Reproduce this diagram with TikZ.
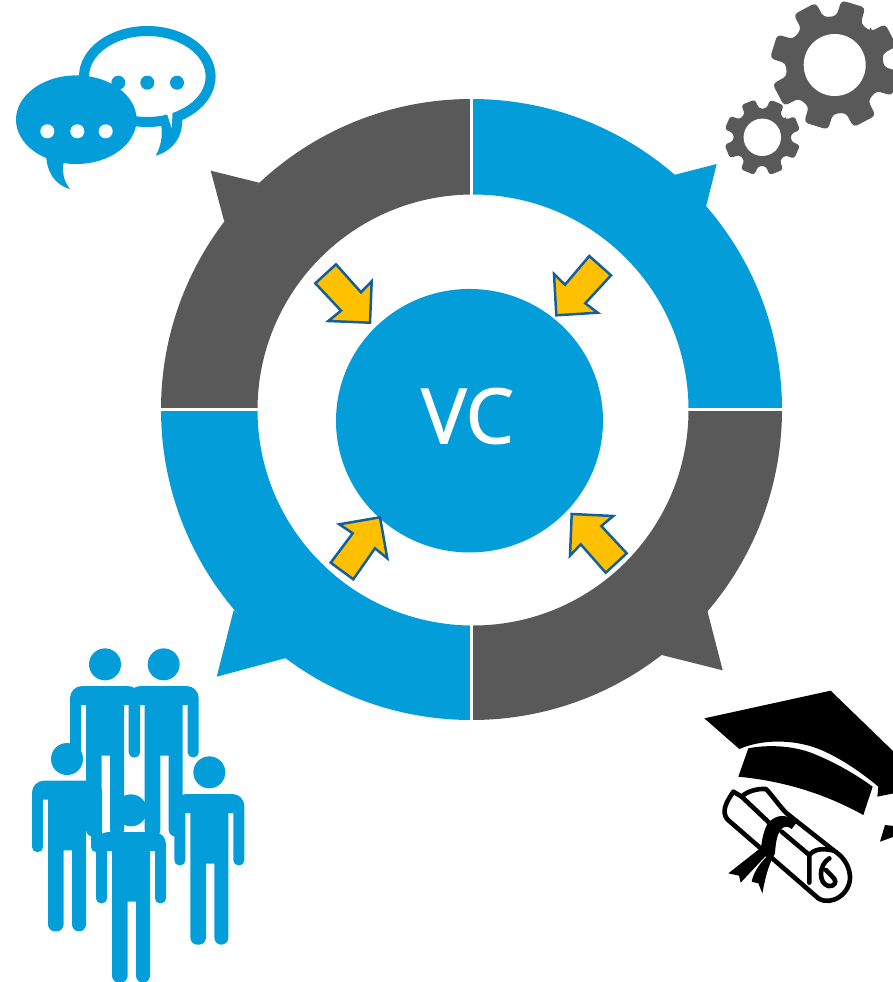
\documentclass[tikz,border=0pt]{standalone}
\usepackage{fontspec}
\setmainfont{Open Sans}
\usetikzlibrary{shapes.geometric}
\definecolor{vcblue}{HTML}{039DD9}
\definecolor{vcdark}{HTML}{595959}
\definecolor{vcyellow}{HTML}{FFC000}
\definecolor{vcedge}{HTML}{155E9C}
\tikzset{
  inarrow/.style={fill=vcyellow,draw=vcedge,line width=2.5pt,line join=miter},
  ringgap/.style={draw=white,line width=3pt},
  scrollline/.style={draw=black,line width=4.6pt,line join=round,line cap=round},
}
\newcommand{\ringseg}[2]{%
  \fill[#2] ([shift={(#1:310.5)}]c) arc[start angle=#1,delta angle=90,radius=310.5]
    -- ([shift={(#1+90:215.5)}]ci) arc[start angle=#1+90,delta angle=-90,radius=215.5] -- cycle;}
\newcommand{\gearicon}[8]{% cx cy rbody rtip half-base half-tip phase corner
  \fill[vcdark,rounded corners=#8pt]
    ([shift={(#7-#5:#3)}]#1,#2)
    \foreach \k in {0,...,7}{
      -- ([shift={(#7+45*\k-#5:#3)}]#1,#2)
      -- ([shift={(#7+45*\k-#6:#4)}]#1,#2)
      -- ([shift={(#7+45*\k+#6:#4)}]#1,#2)
      -- ([shift={(#7+45*\k+#5:#3)}]#1,#2)
    } -- cycle;}
\newcommand{\personicon}[2]{%
  \begin{scope}[shift={(#1,#2)}]
    \fill[vcblue] (0,0) circle[radius=48];
    \fill[vcblue] (-72,122) [rounded corners=5pt] -- (-72,279) -- (-105,279)
      [rounded corners=12pt] -- (-105,65) -- (105,65)
      [rounded corners=5pt] -- (105,279) -- (72,279) [sharp corners] -- (72,122) -- (57,122)
      [rounded corners=7pt] -- (57,517) -- (15,517) [sharp corners] -- (15,274) -- (-10,274)
      [rounded corners=7pt] -- (-10,517) -- (-57,517) [sharp corners] -- (-57,122) -- cycle;
  \end{scope}}
\begin{document}
\begin{tikzpicture}[x=1pt,y=-1pt]
\useasboundingbox (0,0) rectangle (893,982);
\clip (0,0) rectangle (893,982);
\coordinate (c) at (471.5,409.5);
\coordinate (ci) at (473,410);
% ring
\ringseg{-90}{vcblue}
\ringseg{0}{vcdark}
\ringseg{90}{vcblue}
\ringseg{180}{vcdark}
\fill[vcblue] (674,175) -- (716.7,164) -- (706,206.7) -- cycle;
\fill[vcdark] (259.3,182.7) -- (210.7,170.7) -- (224.3,221.7) -- cycle;
\fill[vcblue] (233.7,610) -- (216.7,676.7) -- (286,658) -- cycle;
\fill[vcdark] (707.3,610.7) -- (722.7,670.3) -- (661.7,655) -- cycle;
\draw[ringgap] (471.5,90) -- (471.5,198);
\draw[ringgap] (471.5,622) -- (471.5,730);
\draw[ringgap] (150,409.3) -- (262,409.3);
\draw[ringgap] (684,409.3) -- (790,409.3);
% centre
\node[ellipse,fill=vcblue,inner sep=0pt,minimum width=267pt,minimum height=263.5pt] (vc) at (469.5,420.7) {};
\node[text=white,font=\fontsize{76}{76}\selectfont\addfontfeature{FakeBold=1.6},inner sep=0pt] (vclabel) at (467.5,416) {VC};
% arrows
\draw[inarrow] (336,264.3) -- (361,292.3) -- (371.7,281.3) -- (370,322.7) -- (328.3,321) -- (341,310.7) -- (315.3,283.3) -- cycle;
\draw[inarrow] (589.3,256) -- (611,275.3) -- (585.3,303.3) -- (597.7,312.7) -- (556.3,315.3) -- (554,274) -- (565,284.7) -- cycle;
\draw[inarrow] (330.7,562.7) -- (353.3,579.3) -- (375,548.3) -- (387.3,558.3) -- (380,517.3) -- (339.3,524.3) -- (352.7,533.3) -- cycle;
\draw[inarrow] (626.7,553.3) -- (605.7,572.7) -- (580.7,544.3) -- (570,555.7) -- (571.7,514) -- (613.3,516) -- (601.3,526) -- cycle;
% gears
\gearicon{834.7}{65}{49}{65}{15}{11}{-28}{4}
\fill[white] (834.7,65) circle[radius=31];
\gearicon{762.3}{137.3}{29}{38.5}{15}{11}{-22}{3}
\fill[white] (762.3,137.3) circle[radius=18.7];
% chat bubbles
\draw[vcblue,line width=10pt] (147.3,76.5) ellipse[x radius=63.3,y radius=45.5];
\fill[vcblue] (182.3,118) .. controls (183,138) and (172,151) .. (155.7,155.7)
  .. controls (161,146) and (163,136) .. (161,124) -- cycle;
\fill[white] (166.7,113) -- (171.7,128) -- (172.7,110) -- cycle;
\foreach \px in {118.3,147.3,177} \fill[vcblue] (\px,82.7) circle[radius=7];
\fill[vcblue] (76.3,119.7) ellipse[x radius=60.3,y radius=44.3];
\fill[vcblue] (46,152) .. controls (46,172) and (55,185) .. (70,189)
  .. controls (63,180) and (62,172) .. (64,160) -- cycle;
\foreach \px in {47.3,77.3,105.7} \fill[white] (\px,131.3) circle[radius=7];
% people
\begin{scope}[shift={(20,640)},x=0.33333pt,y=-0.33333pt]
  \personicon{255}{73}
  \personicon{431}{73}
  \personicon{141}{357}
  \personicon{568}{397}
  \personicon{333}{511}
\end{scope}
% graduation cap and diploma
\begin{scope}[shift={(690,680)},x=0.33333pt,y=-0.33333pt]
  \fill[black] (43,115) -- (422,32) -- (612,216) -- (612,340) -- (562,350) -- (565,320)
    .. controls (500,265) and (420,215) .. (360,198)
    .. controls (290,178) and (210,180) .. (148,207) -- cycle;
  \fill[black] (175,205) .. controls (240,192) and (320,198) .. (380,225)
    .. controls (440,250) and (500,285) .. (548,320) -- (520,405)
    .. controls (420,350) and (300,305) .. (145,290) -- cycle;
  \fill[black] (585,435) -- (612,438) -- (612,470) -- (570,485) -- cycle;
  \draw[scrollline] (130,335) .. controls (105,372) and (95,395) .. (112,418) -- (385,655)
    .. controls (425,680) and (482,640) .. (480,590)
    .. controls (478,550) and (452,525) .. (432,512) -- (290,400)
    .. controls (265,375) and (250,350) .. (228,327)
    .. controls (200,325) and (170,335) .. (155,350) -- cycle;
  \draw[scrollline] (155,350) -- (250,440);
  \draw[scrollline] (275,455) -- (358,525) -- (358,608);
  \draw[scrollline] (358,525) .. controls (375,505) and (400,505) .. (432,512);
  \draw[scrollline] (418,535) .. controls (385,555) and (385,610) .. (415,618)
    .. controls (432,622) and (442,605) .. (432,595) -- (408,570);
  \fill[black] (318,430) .. controls (295,400) and (258,400) .. (232,432)
    .. controls (220,455) and (216,480) .. (213,503) -- (115,580) -- (147,587) -- (152,608)
    -- (225,530) -- (230,530) .. controls (205,555) and (190,580) .. (185,605)
    -- (205,610) -- (217,640) .. controls (225,600) and (232,560) .. (255,520)
    .. controls (257,490) and (260,465) .. (273,448) .. controls (282,438) and (295,438) .. (305,447) -- cycle;
\end{scope}
\end{tikzpicture}
\end{document}
